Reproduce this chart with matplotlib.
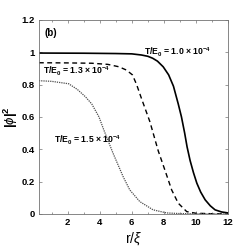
import matplotlib
matplotlib.use("Agg")
import matplotlib.pyplot as plt
from matplotlib.ticker import MultipleLocator

plt.rcParams['font.family'] = ['Liberation Sans', 'DejaVu Sans']
plt.rcParams['mathtext.fontset'] = 'custom'
plt.rcParams['mathtext.rm'] = 'Liberation Sans:bold'
plt.rcParams['mathtext.it'] = 'Liberation Sans:italic'
plt.rcParams['mathtext.bf'] = 'Liberation Sans:bold'

# curve: T/E0 = 1.0e-4 (solid)
r_a = [0.2, 3.0, 5.0, 6.0, 6.6, 7.0, 7.3, 7.6, 7.96, 8.3, 8.6, 8.9, 9.1, 9.3,
       9.45, 9.64, 9.85, 10.06, 10.3, 10.58, 10.9, 11.2, 11.6, 12.0]
phi_a = [0.995, 0.994, 0.992, 0.99, 0.983, 0.975, 0.963, 0.945, 0.91, 0.86,
         0.79, 0.68, 0.6, 0.5, 0.415, 0.33, 0.255, 0.19, 0.135, 0.087, 0.05,
         0.025, 0.012, 0.006]

# T/E0 = 1.3e-4 (dashed)
r_b = [0.2, 2.0, 3.5, 4.5, 5.2, 5.66, 6.04, 6.3, 6.6, 7.13, 7.65, 8.07, 8.49,
       8.9, 9.43, 10.0, 11.0, 12.0]
phi_b = [0.935, 0.934, 0.932, 0.925, 0.91, 0.89, 0.86, 0.8, 0.715, 0.57, 0.39,
         0.27, 0.148, 0.066, 0.014, 0.004, 0.001, 0.0]

# T/E0 = 1.5e-4 (dotted)
r_c = [0.2, 1.0, 2.06, 2.6, 3.1, 3.5, 3.95, 4.25, 4.83, 5.46, 5.875, 6.5,
       7.33, 8.17, 9.0, 10.0, 12.0]
phi_c = [0.824, 0.82, 0.805, 0.77, 0.725, 0.68, 0.6, 0.52, 0.375, 0.23,
         0.148, 0.076, 0.025, 0.006, 0.002, 0.001, 0.0]

labels = [r'T/E$_0$ = 1.0 $\times$ 10$^{-4}$',
          r'T/E$_0$ = 1.3 $\times$ 10$^{-4}$',
          r'T/E$_0$ = 1.5 $\times$ 10$^{-4}$']

fig = plt.figure(figsize=(2.51, 2.49), dpi=100)
ax = fig.add_axes([0.155, 0.141, 0.753, 0.779])

ax.plot(r_a, phi_a, color='black', lw=1.2, linestyle='-')
ax.plot(r_b, phi_b, color='black', lw=1.0, linestyle=(0, (3.5, 2.5)))
ax.plot(r_c, phi_c, color='0.3', lw=0.9, linestyle=(0, (1, 0.8)))

ax.text(6.75, 1.0, labels[0], fontsize=6.2, fontweight='bold', va='center')
ax.text(0.45, 0.88, labels[1], fontsize=6.2, fontweight='bold', va='center')
ax.text(1.15, 0.455, labels[2], fontsize=6.2, fontweight='bold', va='center')
ax.text(0.55, 1.12, '(b)', fontsize=7, fontweight='bold', va='center')

ax.set_xlim(0.2, 12)
ax.set_ylim(0, 1.2)
ax.set_xticks([2, 4, 6, 8, 10, 12])
ax.xaxis.set_minor_locator(MultipleLocator(1))
ax.set_yticks([0, 0.2, 0.4, 0.6, 0.8, 1.0, 1.2])
ax.set_yticklabels(['0', '0.2', '0.4', '0.6', '0.8', '1', '1.2'])

ax.tick_params(which='both', direction='in', top=True, right=True,
               labelsize=6.8, color='0.45', pad=3)
ax.tick_params(which='major', length=2.5, width=0.5)
ax.tick_params(which='minor', length=1.5, width=0.5)
for lab in ax.get_xticklabels() + ax.get_yticklabels():
    lab.set_fontweight('bold')
for sp in ax.spines.values():
    sp.set_color('0.45')
    sp.set_linewidth(0.6)

ax.set_xlabel(r'r/$\xi$', fontsize=10, labelpad=2)
ax.set_ylabel(r'$|\phi|^2$', fontsize=9.5)
ax.yaxis.set_label_coords(-0.1, 0.5)

fig.savefig('out.png', dpi=100)
